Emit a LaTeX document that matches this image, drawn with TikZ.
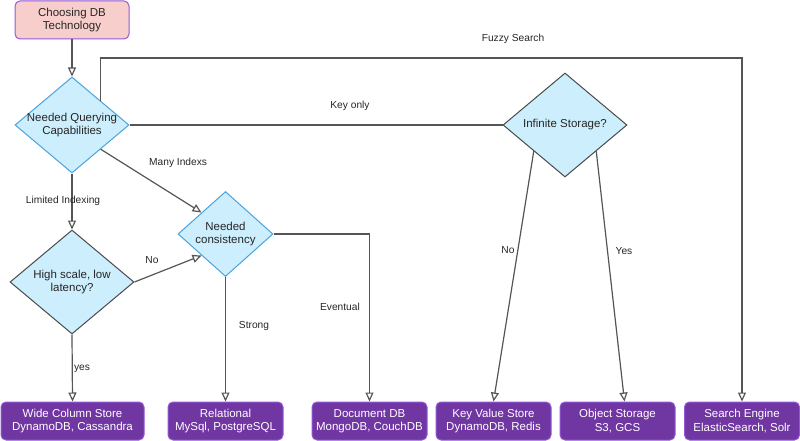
\documentclass[tikz,border=0pt]{standalone}
\usepackage{fontspec}
\setmainfont{Liberation Sans}
\usetikzlibrary{shapes.geometric,arrows.meta}
\definecolor{qfill}{HTML}{CDEEFC}
\definecolor{qblue}{HTML}{4AA3DF}
\definecolor{qgray}{HTML}{4A4A4A}
\definecolor{dbfill}{HTML}{7036A2}
\definecolor{dbline}{HTML}{9357D8}
\definecolor{startfill}{HTML}{F8CECC}
\definecolor{wire}{HTML}{555555}
\tikzset{
  nodefont/.style={font=\fontsize{11.5}{13.5}\selectfont},
  decision/.style={diamond,draw=qgray,fill=qfill,line width=1pt,inner sep=0pt},
  dtext/.style={align=center,text=black!85,nodefont},
  startbox/.style={rectangle,rounded corners=5pt,draw=dbline,fill=startfill,line width=1pt,
    minimum width=114pt,minimum height=38pt,align=center,text=black!85,nodefont},
  dbbox/.style={rectangle,rounded corners=5pt,draw=dbline,fill=dbfill,line width=1pt,text=white,
    minimum width=115pt,minimum height=38pt,align=center,nodefont},
  arr/.style={draw=wire,line width=1.2pt,-{Triangle[open,length=9pt,width=8pt]}},
  wireline/.style={draw=wire,line width=1.2pt},
  elabel/.style={font=\fontsize{10.2}{12}\selectfont,text=black!85,inner sep=0pt}
}
\begin{document}
\begin{tikzpicture}[x=1pt,y=-1pt]
  \useasboundingbox (0,0) rectangle (800,441);
  % questions
  \node[startbox] (start) at (72,20) {Choosing DB\\Technology};
  \node[decision,draw=qblue,minimum width=114pt,minimum height=96pt,
        label={[dtext]center:Needed Querying\\Capabilities}] (query) at (72,125) {};
  \node[decision,minimum width=124pt,minimum height=104pt,
        label={[dtext]center:High scale, low\\latency?}] (scale) at (72,282) {};
  \node[decision,draw=qblue,minimum width=95pt,minimum height=85pt,
        label={[dtext]center:Needed\\consistency}] (cons) at (225.5,234) {};
  \node[decision,minimum width=124pt,minimum height=104pt,
        label={[dtext]center:Infinite Storage?}] (infinite) at (565,125) {};
  % stores
  \node[dbbox,minimum width=143pt] (wide) at (72.5,421) {Wide Column Store\\DynamoDB, Cassandra};
  \node[dbbox] (rel) at (225.5,421) {Relational\\MySql, PostgreSQL};
  \node[dbbox] (doc) at (369.5,421) {Document DB\\MongoDB, CouchDB};
  \node[dbbox] (kv) at (493.5,421) {Key Value Store\\DynamoDB, Redis};
  \node[dbbox] (obj) at (617.5,421) {Object Storage\\S3, GCS};
  \node[dbbox] (search) at (742,421) {Search Engine\\ElasticSearch, Solr};
  % connectors
  \coordinate (fuzzy) at (742,58);
  \draw[arr] (start) -- (query);
  \draw[arr] (query.north east) |- (fuzzy) -- (search.north);
  \draw[wireline] (query.east) -- (infinite.west);
  \draw[arr] (query.south east) -- (cons.north west);
  \draw[arr] (query.south) -- (scale.north);
  \draw[arr] (scale.east) -- (cons.south west);
  \draw[arr] (scale.south) -- (wide.north);
  \draw[arr] (cons.south) -- (rel.north);
  \draw[arr] (cons.east) -| (doc.north);
  \draw[arr] (infinite.south west) -- (kv.north);
  \draw[arr] (infinite.south east) -- ([xshift=7pt]obj.north);
  % edge labels
  \node[elabel] (lfuzzy) at (513,39) {Fuzzy Search};
  \node[elabel] (lkey) at (350,106) {Key only};
  \node[elabel,anchor=west] (lmany) at (149,163) {Many Indexs};
  \node[elabel] (llimited) at (63,201) {Limited Indexing};
  \node[elabel] (lno) at (152,260) {No};
  \node[elabel] (lstrong) at (254,326) {Strong};
  \node[elabel] (leventual) at (340,307) {Eventual};
  \node[elabel] (lyes) at (82,369) {yes};
  \node[elabel] (lnokv) at (508,250) {No};
  \node[elabel] (lyesobj) at (624,251) {Yes};
\end{tikzpicture}
\end{document}
